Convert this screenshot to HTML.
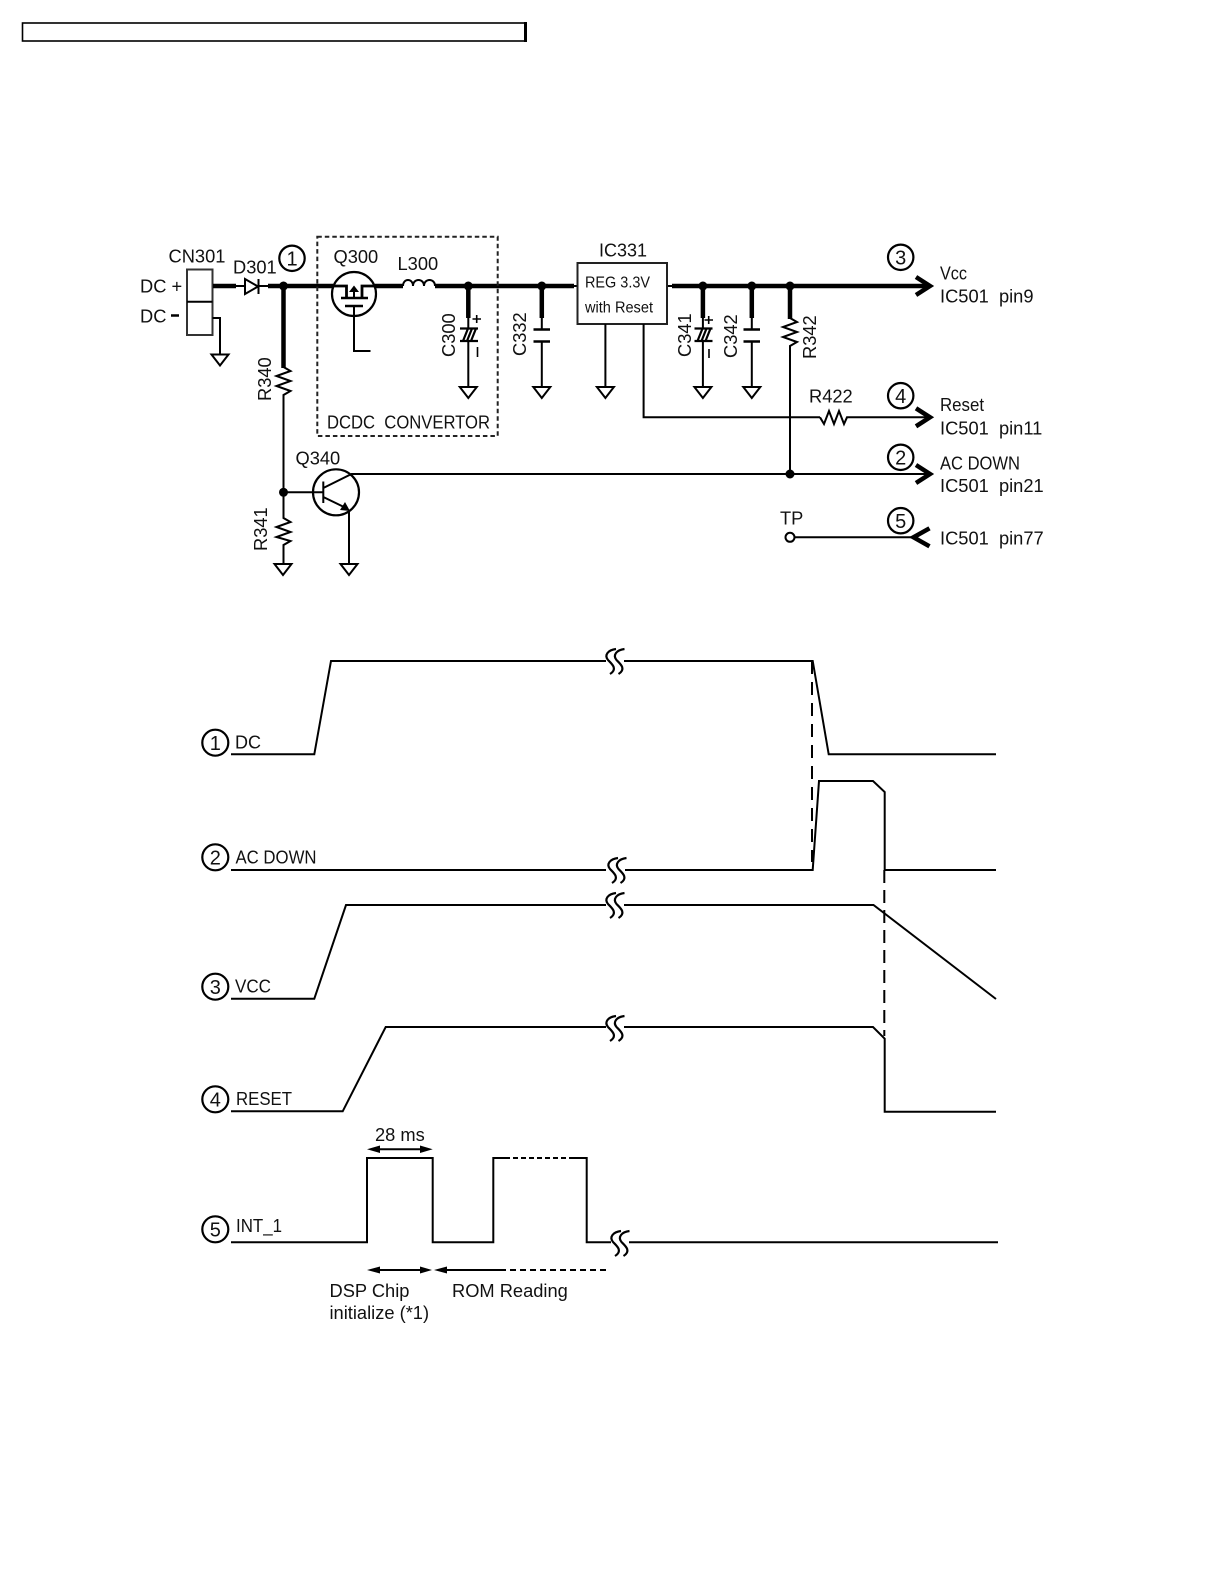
<!DOCTYPE html>
<html><head><meta charset="utf-8"><style>
html,body{margin:0;padding:0;background:#fff}
svg{display:block}
text{font-family:"Liberation Sans",sans-serif;font-size:18.300px;fill:#111;white-space:pre}
.l{fill:none;stroke:#000;stroke-width:2}
.t{fill:none;stroke:#000;stroke-width:4.500}
.g{fill:none;stroke:#000;stroke-width:2}
.c{fill:none;stroke:#000;stroke-width:2.200}
</style></head><body>
<svg width="1224" height="1584" viewBox="0 0 1224 1584" xmlns="http://www.w3.org/2000/svg">
<defs>
<path id="gnd" class="g" d="M-8.500,0H8.500L0,11Z"/>
<path id="chev" d="M-14,-9L0,0L-14,9" fill="none" stroke="#000" stroke-width="4.500"/>
<path id="brk" fill="none" stroke="#000" stroke-width="2.200" d="M6,-12C-2,-11 -6,-6 -2,-1C2,3 8,8 0,13M14.500,-12C6.500,-11 2.500,-6 6.500,-1C10.500,3 16.500,8 8.500,13"/>
<path id="pol" d="M-9,0H9M-9,12.500H9M-6,12.500L-1,0M-2,12.500L3,0M2,12.500L7,0" fill="none" stroke="#000" stroke-width="2.200"/>
</defs>

<!-- top box -->
<rect x="22.500" y="23" width="503" height="18" fill="none" stroke="#000" stroke-width="1.600"/>
<path d="M525.500,22V42" stroke="#000" stroke-width="3"/>

<!-- CN301 -->
<rect x="187" y="269.500" width="25.500" height="65.500" fill="none" stroke="#333" stroke-width="2"/>
<path class="l" d="M187,301.700H212.500"/>
<path class="t" d="M213,286H236"/>
<path class="l" d="M236,286H245M258,286H268M212.500,318H220V354.500"/>
<use href="#gnd" x="220" y="354.500"/>
<path class="g" d="M245,279V294L258,286.500ZM258.500,279V294"/>

<!-- main rail -->
<path class="t" d="M268,286H333M375,286H403M435,286H574M672,286H928"/>
<path class="l" d="M574,286H578M667,286H672M403,286C403,278 413,278 413,286C413,278 424,278 424,286C424,278 435,278 435,286"/>
<use href="#chev" x="930" y="286"/>

<!-- Q300 -->
<circle cx="354" cy="294" r="22" class="c"/>
<path d="M333,286H346.500V298M375,286H362V298" fill="none" stroke="#000" stroke-width="2.800"/>
<path d="M341,298H368M345,306H363" fill="none" stroke="#000" stroke-width="2.500"/>
<path class="l" d="M354,306V351H370.500"/>
<path d="M354,298V291" stroke="#000" stroke-width="2"/>
<path d="M349,292L354,285.500L359,292Z" fill="#000"/>

<!-- DCDC box -->
<rect x="317.300" y="236.700" width="180.400" height="199.300" fill="none" stroke="#222" stroke-width="2" stroke-dasharray="4.500 3"/>

<!-- C300 -->
<path class="t" d="M468.300,286V318"/>
<path class="l" d="M468.300,318V329M468.300,341V387"/>
<use href="#pol" x="469" y="328.500"/>
<use href="#gnd" x="468.300" y="387"/>
<!-- C332 -->
<path class="t" d="M541.800,286V318"/>
<path class="l" d="M541.800,318V329M541.800,342V387"/>
<path d="M533.500,329.500H550M533.500,341.500H550" stroke="#000" stroke-width="2.500"/>
<use href="#gnd" x="541.800" y="387"/>
<!-- IC331 -->
<rect x="577.500" y="263" width="89.500" height="61" fill="none" stroke="#222" stroke-width="2"/>
<path class="l" d="M605.400,324V387M643.600,324V417.300H820"/>
<use href="#gnd" x="605.400" y="387"/>
<!-- C341 -->
<path class="t" d="M702.900,286V318"/>
<path class="l" d="M702.900,318V329M702.900,341V387"/>
<use href="#pol" x="703.500" y="328.500"/>
<use href="#gnd" x="702.900" y="387"/>
<!-- C342 -->
<path class="t" d="M751.800,286V318"/>
<path class="l" d="M751.800,318V329M751.800,342V387"/>
<path d="M743.500,329.500H760M743.500,341.500H760" stroke="#000" stroke-width="2.500"/>
<use href="#gnd" x="751.800" y="387"/>
<!-- R342 -->
<path class="t" d="M790,286V319"/>
<path class="l" d="M790,318L797,322L783,327L797,332L783,337L797,342L790,346V474"/>
<!-- R422 -->
<path class="l" d="M820,417.300L824,424L829,411L834,424L839,411L844,424L847,417.300H928"/>
<use href="#chev" x="930" y="417.300"/>
<!-- R340 -->
<path class="t" d="M283.500,286V368"/>
<path class="l" d="M283.500,367L290.500,371L276.500,376L290.500,381L276.500,386L290.500,391L283.500,395V518L290.500,522L276.500,527L290.500,532L276.500,537L290.500,541L283.500,545V564"/>
<use href="#gnd" x="283" y="564"/>
<!-- Q340 -->
<circle cx="336" cy="492.300" r="23" class="c"/>
<path class="l" d="M283.500,492.300H323.300M323.300,481.500V503M323.300,488L351.500,474H928M323.300,497L346,508M349,510V564"/>
<path d="M340,510L350,511L345,502Z" fill="#000"/>
<use href="#gnd" x="349" y="564"/>
<use href="#chev" x="930" y="474"/>
<!-- TP -->
<circle cx="790" cy="537.300" r="4.500" fill="#fff" stroke="#000" stroke-width="2"/>
<path class="l" d="M794.500,537.300H913"/>
<path d="M929.500,528.300L913.500,537.300L929.500,546.300" fill="none" stroke="#000" stroke-width="4.500"/>
<!-- junctions -->
<g fill="#000">
<circle cx="283.500" cy="286" r="4.500"/><circle cx="468.300" cy="286" r="4.500"/><circle cx="541.800" cy="286" r="4.500"/>
<circle cx="702.900" cy="286" r="4.500"/><circle cx="751.800" cy="286" r="4.500"/><circle cx="790" cy="286" r="4.500"/>
<circle cx="283.500" cy="492.300" r="4.500"/><circle cx="790" cy="474" r="4.500"/>
</g>
<!-- polarity marks -->
<path d="M472.500,319H481M476.700,315V323M477.500,347V357M704.500,320H713M708.700,316V324M709,349V358" stroke="#000" stroke-width="1.600" fill="none"/>

<!-- schematic circles -->
<circle cx="292" cy="258.300" r="12.700" class="c"/>
<circle cx="900.700" cy="257.300" r="12.700" class="c"/>
<circle cx="900.700" cy="395.700" r="12.700" class="c"/>
<circle cx="900.700" cy="457.300" r="12.700" class="c"/>
<circle cx="900.700" cy="520.700" r="12.700" class="c"/>
<g text-anchor="middle">
<text x="292" y="265.500" style="font-size:20px">1</text>
<text x="900.700" y="264.500" style="font-size:20px">3</text>
<text x="900.700" y="403" style="font-size:20px">4</text>
<text x="900.700" y="464.500" style="font-size:20px">2</text>
<text x="900.700" y="528" style="font-size:20px">5</text>
</g>

<!-- schematic text -->
<text x="168.500" y="262.700">CN301</text>
<text x="233" y="273.300">D301</text>
<text x="140" y="292.700">DC +</text>
<text x="140" y="322.700">DC</text>
<path d="M171,315.500H179" stroke="#000" stroke-width="2.500"/>
<text x="333.500" y="263">Q300</text>
<text x="397.500" y="270">L300</text>
<text x="327" y="428.300" textLength="163" lengthAdjust="spacingAndGlyphs">DCDC  CONVERTOR</text>
<text x="295.500" y="464.300">Q340</text>
<text x="599" y="256.700" textLength="48" lengthAdjust="spacingAndGlyphs">IC331</text>
<text x="585" y="287.700" textLength="65" lengthAdjust="spacingAndGlyphs" style="font-size:15.500px">REG 3.3V</text>
<text x="585" y="312.300" textLength="68" lengthAdjust="spacingAndGlyphs" style="font-size:15.500px">with Reset</text>
<text x="809" y="402.700">R422</text>
<text x="780" y="524.300">TP</text>
<text x="940" y="279.300" textLength="27" lengthAdjust="spacingAndGlyphs">Vcc</text>
<text x="940" y="302.300">IC501  pin9</text>
<text x="940" y="411" textLength="44" lengthAdjust="spacingAndGlyphs">Reset</text>
<text x="940" y="434.300">IC501  pin11</text>
<text x="940" y="469.300" textLength="80" lengthAdjust="spacingAndGlyphs">AC DOWN</text>
<text x="940" y="492">IC501  pin21</text>
<text x="940" y="544.300">IC501  pin77</text>
<text transform="translate(271,401) rotate(-90)">R340</text>
<text transform="translate(267,551) rotate(-90)">R341</text>
<text transform="translate(455,357) rotate(-90)">C300</text>
<text transform="translate(526,356) rotate(-90)">C332</text>
<text transform="translate(691,357) rotate(-90)">C341</text>
<text transform="translate(736.800,358) rotate(-90)">C342</text>
<text transform="translate(816,359) rotate(-90)">R342</text>

<!-- timing -->
<path class="l" d="M231,754.300H314.300L331,661H606M624,661H812.700L828.700,754.300H996"/>
<path class="l" d="M231,870H606M625,870H812.700L819,781H873L884.700,792V870H996"/>
<path class="l" d="M231,998.700H314.300L346,905H606M624,905H873.500L996,999"/>
<path class="l" d="M231,1111.300H342.700L385.700,1027H606M624,1027H873L884.700,1038.700V1111.700H996"/>
<path class="l" d="M231,1242.300H367V1158H432.700V1242.300H493.300V1158H505M572,1158H586.700V1242.300H611M629,1242.300H998"/>
<path class="l" stroke-dasharray="5 3" d="M505,1158H572"/>
<path d="M812,661V862" fill="none" stroke="#000" stroke-width="2" stroke-dasharray="13 8"/>
<path d="M884.300,870V1036" fill="none" stroke="#000" stroke-width="2" stroke-dasharray="13 7"/>
<use href="#brk" x="610" y="661"/>
<use href="#brk" x="612" y="870"/>
<use href="#brk" x="610" y="905"/>
<use href="#brk" x="610" y="1028"/>
<use href="#brk" x="615" y="1243"/>

<!-- timing arrows -->
<path class="l" d="M372,1149.300H428M372,1270H428M439,1270H500"/>
<path class="l" stroke-dasharray="6 4" d="M500,1270H606"/>
<g fill="#000">
<path d="M367,1149.300L380,1145.500V1153ZM432.700,1149.300L420,1145.500V1153Z"/>
<path d="M367,1270L380,1266.500V1273.500ZM432,1270L420,1266.500V1273.500Z"/>
<path d="M434,1270L447,1266.500V1273.500Z"/>
</g>

<circle cx="215.300" cy="742.700" r="13" class="c"/>
<circle cx="215.300" cy="857.300" r="13" class="c"/>
<circle cx="215.300" cy="986.700" r="13" class="c"/>
<circle cx="215.300" cy="1099.300" r="13" class="c"/>
<circle cx="215.300" cy="1229.300" r="13" class="c"/>
<text x="215.300" y="750" text-anchor="middle" style="font-size:20px">1</text>
<text x="215.300" y="864.500" text-anchor="middle" style="font-size:20px">2</text>
<text x="215.300" y="994" text-anchor="middle" style="font-size:20px">3</text>
<text x="215.300" y="1106.500" text-anchor="middle" style="font-size:20px">4</text>
<text x="215.300" y="1236.500" text-anchor="middle" style="font-size:20px">5</text>
<text x="235" y="748.300" textLength="26" lengthAdjust="spacingAndGlyphs">DC</text>
<text x="235.500" y="863.300" textLength="81" lengthAdjust="spacingAndGlyphs">AC DOWN</text>
<text x="235" y="992.300" textLength="36" lengthAdjust="spacingAndGlyphs">VCC</text>
<text x="236" y="1104.800" textLength="56" lengthAdjust="spacingAndGlyphs">RESET</text>
<text x="236" y="1232" textLength="46" lengthAdjust="spacingAndGlyphs">INT_1</text>
<text x="375" y="1141">28 ms</text>
<text x="329.500" y="1297">DSP Chip</text>
<text x="329.500" y="1319">initialize (*1)</text>
<text x="452" y="1297">ROM Reading</text>
</svg>
</body></html>
